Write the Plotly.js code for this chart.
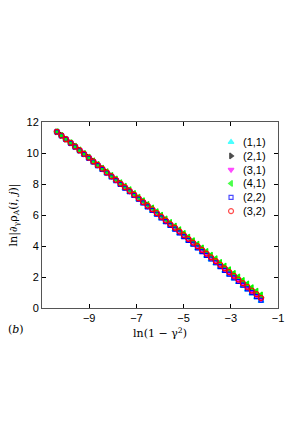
<!DOCTYPE html>
<html><head><meta charset="utf-8">
<script src="https://cdn.plot.ly/plotly-3.0.1.min.js"></script>
<style>html,body{margin:0;padding:0;background:#fff;}#chart{width:300px;height:431px;}</style>
</head><body><div id="chart"></div>
<script>
const xVals = [-10.37,-10.18,-9.99,-9.79,-9.60,-9.41,-9.22,-9.02,-8.83,-8.64,-8.45,-8.26,-8.06,-7.87,-7.68,-7.49,-7.29,-7.10,-6.91,-6.72,-6.53,-6.33,-6.14,-5.95,-5.76,-5.57,-5.37,-5.18,-4.99,-4.80,-4.60,-4.41,-4.22,-4.03,-3.84,-3.64,-3.45,-3.26,-3.07,-2.87,-2.68,-2.49,-2.30,-2.11,-1.91,-1.72];
const y11 = [11.36,11.12,10.88,10.63,10.39,10.15,9.91,9.66,9.42,9.18,8.94,8.69,8.45,8.21,7.97,7.72,7.48,7.24,7.00,6.75,6.51,6.27,6.03,5.78,5.54,5.30,5.06,4.81,4.57,4.33,4.09,3.84,3.60,3.36,3.12,2.87,2.63,2.39,2.15,1.90,1.66,1.42,1.18,0.93,0.69,0.45];
const y21 = [11.37,11.13,10.89,10.66,10.42,10.18,9.94,9.71,9.47,9.23,8.99,8.76,8.52,8.28,8.04,7.81,7.57,7.33,7.09,6.86,6.62,6.38,6.14,5.90,5.67,5.43,5.19,4.95,4.72,4.48,4.24,4.00,3.77,3.53,3.29,3.05,2.82,2.58,2.34,2.10,1.87,1.63,1.39,1.15,0.92,0.68];
const y31 = [11.37,11.13,10.89,10.65,10.41,10.17,9.93,9.69,9.45,9.21,8.97,8.73,8.49,8.25,8.01,7.77,7.53,7.29,7.05,6.81,6.57,6.33,6.09,5.85,5.61,5.38,5.14,4.90,4.66,4.42,4.18,3.94,3.70,3.46,3.22,2.98,2.74,2.50,2.26,2.02,1.78,1.54,1.30,1.06,0.82,0.58];
const y41 = [11.38,11.14,10.90,10.67,10.44,10.20,9.97,9.73,9.50,9.27,9.03,8.80,8.56,8.33,8.09,7.86,7.63,7.39,7.16,6.92,6.69,6.46,6.22,5.99,5.75,5.52,5.29,5.05,4.82,4.58,4.35,4.12,3.88,3.65,3.41,3.18,2.95,2.71,2.48,2.24,2.01,1.78,1.55,1.32,1.09,0.85];
const y22 = [11.36,11.12,10.88,10.64,10.39,10.15,9.91,9.67,9.43,9.19,8.95,8.71,8.46,8.22,7.98,7.74,7.50,7.26,7.02,6.78,6.53,6.29,6.05,5.81,5.57,5.33,5.09,4.85,4.60,4.36,4.12,3.88,3.64,3.40,3.16,2.92,2.67,2.43,2.19,1.95,1.71,1.47,1.23,0.99,0.74,0.50];
const y32 = [11.37,11.13,10.89,10.66,10.42,10.18,9.94,9.70,9.46,9.23,8.99,8.75,8.51,8.27,8.03,7.80,7.56,7.32,7.08,6.84,6.61,6.37,6.13,5.89,5.65,5.41,5.18,4.94,4.70,4.46,4.22,3.99,3.75,3.51,3.27,3.03,2.79,2.56,2.32,2.08,1.84,1.60,1.37,1.13,0.89,0.65];
const seriesNames = ['(1,1)','(2,1)','(3,1)','(4,1)','(2,2)','(3,2)'];
const xTickVals = [-9,-7,-5,-3,-1];
const yTickVals = [0,2,4,6,8,10,12];
const xRange = [-11,-1];
const yRange = [0,12];

const ys = [y11,y21,y31,y41,y22,y32];
const colors = ['#00ffff','#000000','#ff00ff','#00ff00','#0000ff','#ff0000'];
const symbols = ['triangle-up','triangle-right','triangle-down','triangle-left','square-open','circle-open'];
const sizes = [5,5,5,5,4,5];
const traces = ys.map((y,i)=>({
  x: xVals, y: y, type:'scatter', mode:'markers', name: seriesNames[i], showlegend:false,
  marker:{symbol:symbols[i], color:colors[i], size:sizes[i], line:{color:colors[i], width:1.2}}
}));

// compact legend placed in fractions of the plot area
const legX = 0.801, legTextX = 0.843, legTop = 0.892, legStep = 0.0742;
const legFracs = seriesNames.map((_,i)=>legTop - i*legStep);
const toX = f => xRange[0] + f*(xRange[1]-xRange[0]);
const toY = f => yRange[0] + f*(yRange[1]-yRange[0]);
traces.push({
  x: seriesNames.map(()=>toX(legX)), y: legFracs.map(toY), type:'scatter', mode:'markers',
  showlegend:false, hoverinfo:'skip',
  marker:{symbol:symbols, color:colors, size:sizes, line:{color:colors, width:1.2}}
});
const annotations = seriesNames.map((n,i)=>({
  text:n, xref:'paper', yref:'paper', x:legTextX, y:legFracs[i], xanchor:'left', yanchor:'middle',
  showarrow:false, font:{family:'Liberation Sans, Arial, sans-serif', size:11, color:'#000'}
}));
annotations.push({text:'(<i>b</i>)', xref:'paper', yref:'paper', x:-0.11, y:-0.115, xanchor:'center', yanchor:'middle',
    showarrow:false, font:{family:'DejaVu Serif, serif', size:11}});

const layout = {
  width:300, height:431,
  margin:{l:42, r:22, t:122, b:123, pad:0},
  paper_bgcolor:'#fff', plot_bgcolor:'#fff',
  font:{family:'Liberation Sans, Arial, sans-serif', size:11, color:'#000'},
  showlegend:false,
  xaxis:{range:xRange, tickvals:xTickVals, ticks:'inside', ticklen:4, tickcolor:'#000',
    showline:true, linecolor:'#555', linewidth:1, mirror:'ticks', showgrid:false, zeroline:false,
    tickfont:{size:11},
    title:{text:'ln(1 − γ<sup>2</sup>)', font:{family:'DejaVu Serif, serif', size:11}, standoff:6}},
  yaxis:{range:yRange, tickvals:yTickVals, ticks:'inside', ticklen:4, tickcolor:'#000',
    showline:true, linecolor:'#555', linewidth:1, mirror:'ticks', showgrid:false, zeroline:false,
    tickfont:{size:11},
    title:{text:'ln|∂<sub>γ</sub>ρ<sub>A</sub>(<i>i</i>, <i>j</i>)|', font:{family:'DejaVu Serif, serif', size:11}, standoff:6}},
  annotations: annotations
};
Plotly.newPlot('chart', traces, layout, {displayModeBar:false, staticPlot:true});
</script>
</body></html>
